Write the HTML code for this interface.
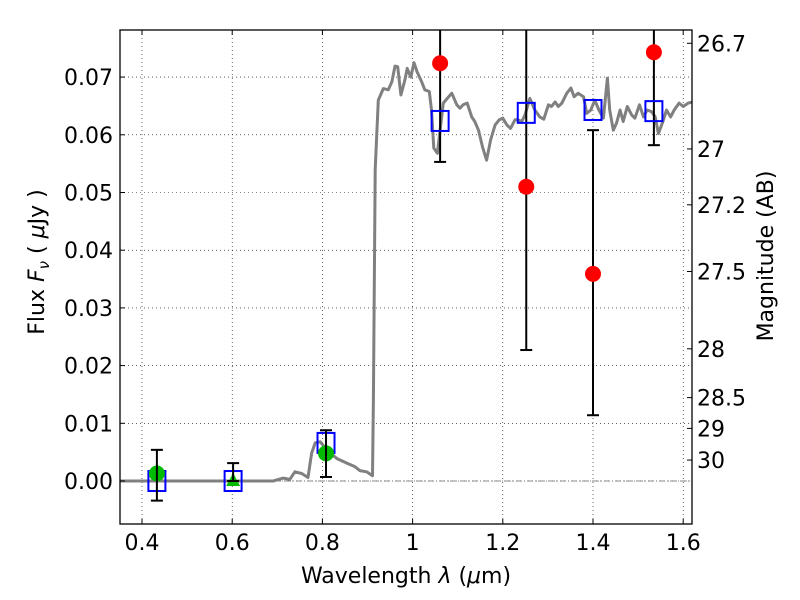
<!DOCTYPE html>
<html><head><meta charset="utf-8"><style>
body{margin:0;background:#fff}
svg{display:block;font-family:"DejaVu Sans","Liberation Sans",sans-serif}
</style></head><body>
<svg id="chart" width="800" height="600" viewBox="0 0 800 600">
<rect width="800" height="600" fill="#fff"/>
<g id="grid"></g>
<g id="model"></g>
<g id="marks"></g>
<rect x="120" y="30" width="572" height="494" fill="none" stroke="#000" stroke-width="1.3"/>
<g id="axes" font-size="22" fill="#000"></g>
<text x="406" y="583" font-size="22" text-anchor="middle">Wavelength  <tspan font-style="italic">λ</tspan> (<tspan font-style="italic">μ</tspan>m)</text>
<text transform="translate(44,262) rotate(-90)" font-size="22" text-anchor="middle">Flux  <tspan font-style="italic">F</tspan><tspan font-style="italic" font-size="15" dy="5">ν</tspan><tspan dy="-5">  ( </tspan><tspan font-style="italic">μ</tspan>Jy )</text>
<text transform="translate(773,256) rotate(-90)" font-size="22" text-anchor="middle">Magnitude (AB)</text>
</svg>
<script>
const xTicks=[0.4,0.6,0.8,1.0,1.2,1.4,1.6];
const xTickLabels=["0.4","0.6","0.8","1","1.2","1.4","1.6"];
const yTicks=[0,0.01,0.02,0.03,0.04,0.05,0.06,0.07];
const yTickLabels=["0.00","0.01","0.02","0.03","0.04","0.05","0.06","0.07"];
const magTicks=[26.7,27,27.2,27.5,28,28.5,29,30];
const magLabels=["26.7","27","27.2","27.5","28","28.5","29","30"];
const bands=[0.433,0.602,0.808,1.061,1.252,1.400,1.535];
const modelFlux=[0.0,0.0,0.0066,0.0624,0.0638,0.0643,0.0641];
const obsGreen=[0.433,0.808];
const obsGreenFlux=[0.0013,0.0048];
const obsGreenLo=[-0.0034,0.0007];
const obsGreenHi=[0.0054,0.0088];
const triX=[0.602];
const triFlux=[0.0];
const triHi=[0.0031];
const triLo=[0.0];
const obsRed=[1.061,1.252,1.400,1.535];
const obsRedFlux=[0.0724,0.051,0.0359,0.0743];
const obsRedLo=[0.0553,0.0227,0.0114,0.0582];
const obsRedHi=[0.0895,0.0893,0.0608,0.0904];
const sedLam=[0.35,0.5,0.691,0.713,0.728,0.739,0.754,0.768,0.776,0.784,0.795,0.81,0.832,0.854,0.872,0.883,0.898,0.911,0.913,0.917,0.924,0.935,0.946,0.954,0.961,0.967,0.974,0.983,0.988,0.996,1.003,1.010,1.020,1.027,1.037,1.042,1.047,1.055,1.061,1.068,1.077,1.087,1.098,1.105,1.112,1.121,1.131,1.138,1.146,1.155,1.164,1.173,1.183,1.192,1.200,1.209,1.217,1.227,1.234,1.242,1.249,1.260,1.271,1.282,1.291,1.301,1.308,1.316,1.323,1.331,1.342,1.351,1.358,1.367,1.379,1.386,1.395,1.404,1.413,1.423,1.432,1.437,1.445,1.452,1.460,1.467,1.476,1.486,1.493,1.503,1.512,1.520,1.530,1.538,1.545,1.555,1.563,1.572,1.580,1.591,1.600,1.611,1.622];
const sedFlux=[0,0,0,0.0005,0.0003,0.0016,0.0013,0.0006,0.0048,0.0066,0.0068,0.0054,0.0039,0.0031,0.0025,0.0018,0.0016,0.0009,0.014,0.054,0.066,0.068,0.0678,0.0692,0.0719,0.0718,0.0669,0.0695,0.0715,0.070,0.0725,0.0709,0.0692,0.0678,0.0675,0.0643,0.0577,0.0568,0.0608,0.0655,0.0663,0.0672,0.0652,0.0646,0.0652,0.0655,0.0631,0.0623,0.0608,0.0579,0.0556,0.0591,0.0617,0.0626,0.0629,0.0617,0.0611,0.0626,0.0626,0.0623,0.0634,0.0663,0.0643,0.0631,0.0627,0.0652,0.0649,0.0657,0.0649,0.0655,0.0672,0.0681,0.0666,0.0672,0.0666,0.0637,0.0643,0.066,0.0643,0.0629,0.0698,0.0643,0.0608,0.062,0.0643,0.0623,0.0649,0.0634,0.0629,0.0652,0.0631,0.0643,0.064,0.0631,0.0602,0.0623,0.0643,0.0631,0.0643,0.0655,0.0649,0.0655,0.0657];

const NS="http://www.w3.org/2000/svg";
const L=120,R=692,T=30,B=524;
const xMin=0.3512,xMax=1.6195,yMin=-0.00745,yMax=0.07816;
const X=v=>L+(v-xMin)/(xMax-xMin)*(R-L);
const Y=v=>B-(v-yMin)/(yMax-yMin)*(B-T);
const magToFlux=m=>Math.pow(10,(23.9-m)/2.5);
function mk(tag,attrs,parent){const e=document.createElementNS(NS,tag);for(const k in attrs)e.setAttribute(k,attrs[k]);parent.appendChild(e);return e;}
const grid=document.getElementById('grid'),axes=document.getElementById('axes'),model=document.getElementById('model'),marks=document.getElementById('marks');
const clip=mk('clipPath',{id:'pc'},document.getElementById('chart'));
mk('rect',{x:L,y:T,width:R-L,height:B-T},clip);
marks.setAttribute('clip-path','url(#pc)');
model.setAttribute('clip-path','url(#pc)');

xTicks.forEach((t,i)=>{const x=X(t);
 const g=mk('line',{x1:x,x2:x,y1:T,y2:B,stroke:'#000','stroke-width':0.6,'stroke-dasharray':'1,3'},grid);
 
 
 mk('line',{x1:x,x2:x,y1:B,y2:B-5,stroke:'#000'},axes);
 mk('line',{x1:x,x2:x,y1:T,y2:T+5,stroke:'#000'},axes);
 const tx=mk('text',{x:x,y:B+26,'text-anchor':'middle'},axes);tx.textContent=xTickLabels[i];
 
 
});
yTicks.forEach((t,i)=>{const y=Y(t);
 const g=mk('line',{x1:L,x2:R,y1:y,y2:y,stroke:'#000','stroke-width':0.6,'stroke-dasharray':'1,3'},grid);
 
 
 mk('line',{x1:L,x2:L+5,y1:y,y2:y,stroke:'#000'},axes);
 const tx=mk('text',{x:L-7,y:y+8,'text-anchor':'end'},axes);tx.textContent=yTickLabels[i];
 
 
});
magTicks.forEach((m,i)=>{const y=Y(magToFlux(m));
 mk('line',{x1:R,x2:R-5,y1:y,y2:y,stroke:'#000'},axes);
 const tx=mk('text',{x:R+5,y:y+8,'text-anchor':'start'},axes);tx.textContent=magLabels[i];
 
 
});
const zl=mk('line',{x1:L,x2:R,y1:Y(0),y2:Y(0),stroke:'#666','stroke-width':0.8,'stroke-dasharray':'6,2,1,2'},grid);



const pts=sedLam.map((l,i)=>X(l).toFixed(1)+','+Y(sedFlux[i]).toFixed(1)).join(' ');
const pl=mk('polyline',{points:pts,fill:'none',stroke:'#808080','stroke-width':3,'stroke-linejoin':'round'},model);



function errbar(x,lo,hi){const xp=X(x),y1=Y(lo),y2=Y(hi);
 const e=mk('g',{stroke:'#000','stroke-width':2},marks);
 
 
 mk('line',{x1:xp,x2:xp,y1:y1,y2:y2},e);
 mk('line',{x1:xp-6,x2:xp+6,y1:y1,y2:y1},e);
 mk('line',{x1:xp-6,x2:xp+6,y1:y2,y2:y2},e);
}
obsRed.forEach((x,i)=>errbar(x,obsRedLo[i],obsRedHi[i]));
bands.forEach((b,i)=>{const s=mk('rect',{x:X(b)-8.5,y:Y(modelFlux[i])-10,width:17,height:20,fill:'none',stroke:'#0000ff','stroke-width':2},marks);
 
 });
obsGreen.forEach((x,i)=>{const c=mk('circle',{cx:X(x),cy:Y(obsGreenFlux[i]),r:8,fill:'#00bb00'},marks);
 
 });
triX.forEach((x,i)=>{const xp=X(x),yp=Y(triFlux[i]);
 const t=mk('polygon',{points:`${xp-7},${yp+5} ${xp+7},${yp+5} ${xp},${yp-8}`,fill:'#00bb00'},marks);
 
 });
obsGreen.forEach((x,i)=>errbar(x,obsGreenLo[i],obsGreenHi[i]));
triX.forEach((x,i)=>errbar(x,triLo[i],triHi[i]));
obsRed.forEach((x,i)=>{const c=mk('circle',{cx:X(x),cy:Y(obsRedFlux[i]),r:8,fill:'#ff0000'},marks);
 
 });
</script>
</body></html>
